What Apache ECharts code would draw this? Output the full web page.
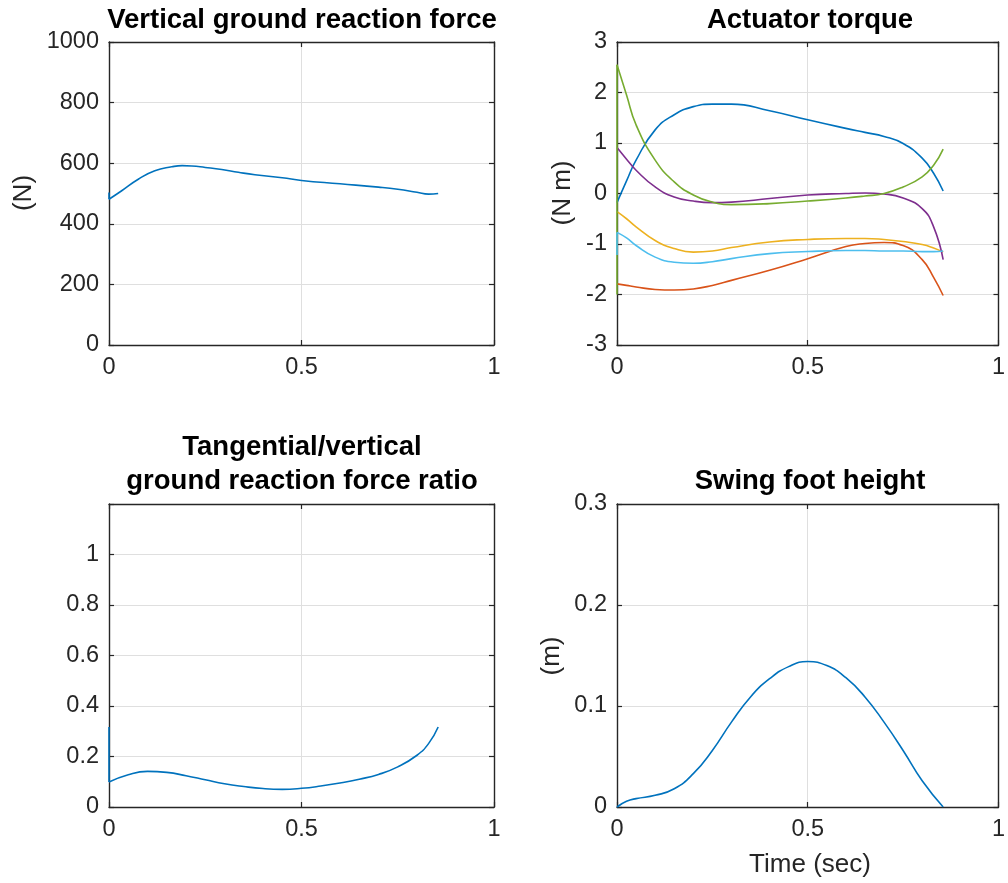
<!DOCTYPE html>
<html>
<head>
<meta charset="utf-8">
<script src="https://cdn.jsdelivr.net/npm/echarts@6/dist/echarts.min.js"></script>
<style>html,body{margin:0;padding:0;background:#fff}#c{width:1008px;height:883px}</style>
</head>
<body>
<div id="c"></div>
<script>
// ---- Data ----
const xTicks = [0, 0.5, 1];

// Vertical ground reaction force (N)
const tForce = [0, 0.033, 0.076, 0.119, 0.163, 0.19, 0.215, 0.25, 0.293, 0.336, 0.379, 0.45, 0.5, 0.6, 0.7, 0.75, 0.8, 0.83, 0.855];
const force  = [481, 509, 547, 575, 588, 592, 591, 586, 579, 570, 562, 552, 543, 532, 521, 514, 504, 498, 500];
const forceJump = [503, 481];

// Actuator torque (N m)
const tTorque = [0, 0.025, 0.05, 0.1, 0.15, 0.2, 0.25, 0.3, 0.4, 0.5, 0.6, 0.65, 0.7, 0.75, 0.8, 0.83, 0.855];
const torque1 = [-0.18, 0.25, 0.66, 1.26, 1.56, 1.72, 1.77, 1.77, 1.64, 1.46, 1.29, 1.21, 1.13, 0.99, 0.70, 0.40, 0.05];
const torque2 = [-1.79, -1.82, -1.85, -1.90, -1.91, -1.89, -1.82, -1.72, -1.52, -1.29, -1.05, -0.99, -0.97, -1.03, -1.31, -1.66, -2.02];
const torque3 = [-0.36, -0.50, -0.66, -0.93, -1.09, -1.16, -1.14, -1.07, -0.96, -0.91, -0.89, -0.89, -0.91, -0.95, -1.01, -1.08, -1.16];
const torque4 = [0.91, 0.68, 0.46, 0.13, -0.07, -0.15, -0.18, -0.17, -0.10, -0.03, 0.00, 0.01, -0.01, -0.09, -0.30, -0.66, -1.31];
const torque5 = [2.55, 1.95, 1.36, 0.66, 0.23, -0.03, -0.17, -0.22, -0.20, -0.15, -0.09, -0.05, 0.00, 0.13, 0.33, 0.56, 0.88];
const torque6 = [-0.77, -0.88, -1.03, -1.26, -1.36, -1.38, -1.35, -1.29, -1.19, -1.15, -1.13, -1.13, -1.14, -1.14, -1.15, -1.15, -1.14];
const torque5Jump = [-2.0, 2.55];
const torque6Jump = [-1.22, -0.77];

// Tangential / vertical GRF ratio
const tRatio = [0, 0.05, 0.1, 0.15, 0.2, 0.25, 0.3, 0.35, 0.4, 0.45, 0.5, 0.55, 0.6, 0.65, 0.7, 0.75, 0.8, 0.83, 0.855];
const ratio  = [0.099, 0.128, 0.141, 0.137, 0.124, 0.108, 0.092, 0.081, 0.073, 0.070, 0.074, 0.083, 0.095, 0.110, 0.129, 0.159, 0.205, 0.251, 0.317];
const ratioJump = [0.317, 0.099];

// Swing foot height (m)
const tHeight = [0, 0.025, 0.05, 0.1, 0.15, 0.2, 0.25, 0.3, 0.35, 0.4, 0.45, 0.5, 0.55, 0.6, 0.65, 0.7, 0.75, 0.8, 0.855];
const height  = [0, 0.0056, 0.0083, 0.0116, 0.018, 0.033, 0.056, 0.084, 0.109, 0.127, 0.139, 0.144, 0.140, 0.128, 0.109, 0.084, 0.056, 0.026, 0];

const titles = ['Vertical ground reaction force', 'Actuator torque', 'Tangential/vertical\nground reaction force ratio', 'Swing foot height'];
const yNames = ['(N)', '(N m)', '', '(m)'];
const xName = 'Time (sec)';

// ---- Styling / layout ----
const FONT = '"Liberation Sans", Arial, Helvetica, sans-serif';
const AX = '#262626';
const GRIDC = '#dfdfdf';
const COLORS = ['#0072BD', '#D95319', '#EDB120', '#7E2F8E', '#77AC30', '#4DBEEE'];
const grids = [
  {left: 109, top: 42, width: 385, height: 303},
  {left: 617, top: 42, width: 385, height: 303},
  {left: 109, top: 504, width: 385, height: 303},
  {left: 617, top: 504, width: 385, height: 303}
];
const yRanges = [
  {min: 0, max: 1000, interval: 200},
  {min: -3, max: 3, interval: 1},
  {min: 0, max: 1.2, interval: 0.2},
  {min: 0, max: 0.3, interval: 0.1}
];

const xAxes = [], yAxes = [];
grids.forEach((g, i) => {
  const common = {
    gridIndex: i, type: 'value',
    axisLine: {show: true, onZero: false, lineStyle: {color: AX, width: 1.4}},
    axisTick: {show: true, inside: true, length: 5, lineStyle: {color: AX, width: 1.2}},
  };
  xAxes.push(Object.assign({}, common, {
    position: 'bottom', min: xTicks[0], max: xTicks[xTicks.length - 1], interval: xTicks[1] - xTicks[0],
    axisLabel: {color: AX, fontSize: 23.5, fontFamily: FONT, margin: 11},
    splitLine: {show: true, showMinLine: false, showMaxLine: false, lineStyle: {color: GRIDC, width: 1}}
  }));
  xAxes.push(Object.assign({}, common, {
    position: 'top', min: xTicks[0], max: xTicks[xTicks.length - 1], interval: xTicks[1] - xTicks[0],
    axisLabel: {show: false}, splitLine: {show: false}
  }));
  const yr = yRanges[i];
  yAxes.push(Object.assign({}, common, yr, {
    position: 'left',
    axisLabel: {color: AX, fontSize: 23.5, fontFamily: FONT, margin: 10,
      formatter: v => (i === 2 && v > 1.05) ? '' : String(+v.toFixed(2))},
    splitLine: {show: true, showMinLine: false, showMaxLine: false, lineStyle: {color: GRIDC, width: 1}}
  }));
  yAxes.push(Object.assign({}, common, yr, {
    position: 'right', axisLabel: {show: false}, splitLine: {show: false}
  }));
});

function zip(t, v) { return t.map((x, k) => [x, v[k]]); }
function line(gi, t, v, color, smooth) {
  return {
    type: 'line', xAxisIndex: gi * 2, yAxisIndex: gi * 2, data: zip(t, v),
    showSymbol: false, symbol: 'none', smooth: smooth, silent: true, animation: false,
    lineStyle: {color: color, width: 1.6}, z: 3
  };
}

const series = [
  line(0, [0, 0], forceJump, COLORS[0], false),
  line(0, tForce, force, COLORS[0], 0.5),
  line(1, tTorque, torque1, COLORS[0], 0.5),
  line(1, tTorque, torque2, COLORS[1], 0.5),
  line(1, tTorque, torque3, COLORS[2], 0.5),
  line(1, tTorque, torque4, COLORS[3], 0.5),
  line(1, [0, 0], torque5Jump, COLORS[4], false),
  line(1, tTorque, torque5, COLORS[4], 0.5),
  line(1, [0, 0], torque6Jump, COLORS[5], false),
  line(1, tTorque, torque6, COLORS[5], 0.5),
  line(2, [0, 0], ratioJump, COLORS[0], false),
  line(2, tRatio, ratio, COLORS[0], 0.5),
  line(3, tHeight, height, COLORS[0], 0.5)
];

// titles & axis names as text graphics
const graphic = [];
const titleCenters = [[302, 20], [810, 20], [302, 464], [810, 481]];
titles.forEach((s, i) => {
  graphic.push({type: 'text', x: titleCenters[i][0], y: titleCenters[i][1],
    style: {text: s, fill: '#000', font: 'bold 27.5px ' + FONT, textAlign: 'center', textVerticalAlign: 'middle', lineHeight: 34}});
});
const yNamePos = [[24, 193], [563, 193], [0, 0], [552, 656]];
yNames.forEach((s, i) => {
  if (!s) return;
  graphic.push({type: 'text', x: yNamePos[i][0], y: yNamePos[i][1], rotation: Math.PI / 2,
    style: {text: s, fill: AX, font: '26px ' + FONT, textAlign: 'center', textVerticalAlign: 'middle'}});
});
graphic.push({type: 'text', x: 810, y: 865,
  style: {text: xName, fill: AX, font: '26px ' + FONT, textAlign: 'center', textVerticalAlign: 'middle'}});

const chart = echarts.init(document.getElementById('c'), null, {renderer: 'canvas'});
chart.setOption({
  animation: false,
  backgroundColor: '#fff',
  grid: grids.map(g => Object.assign({show: false, containLabel: false}, g)),
  xAxis: xAxes,
  yAxis: yAxes,
  series: series,
  graphic: graphic
});
</script>
</body>
</html>
